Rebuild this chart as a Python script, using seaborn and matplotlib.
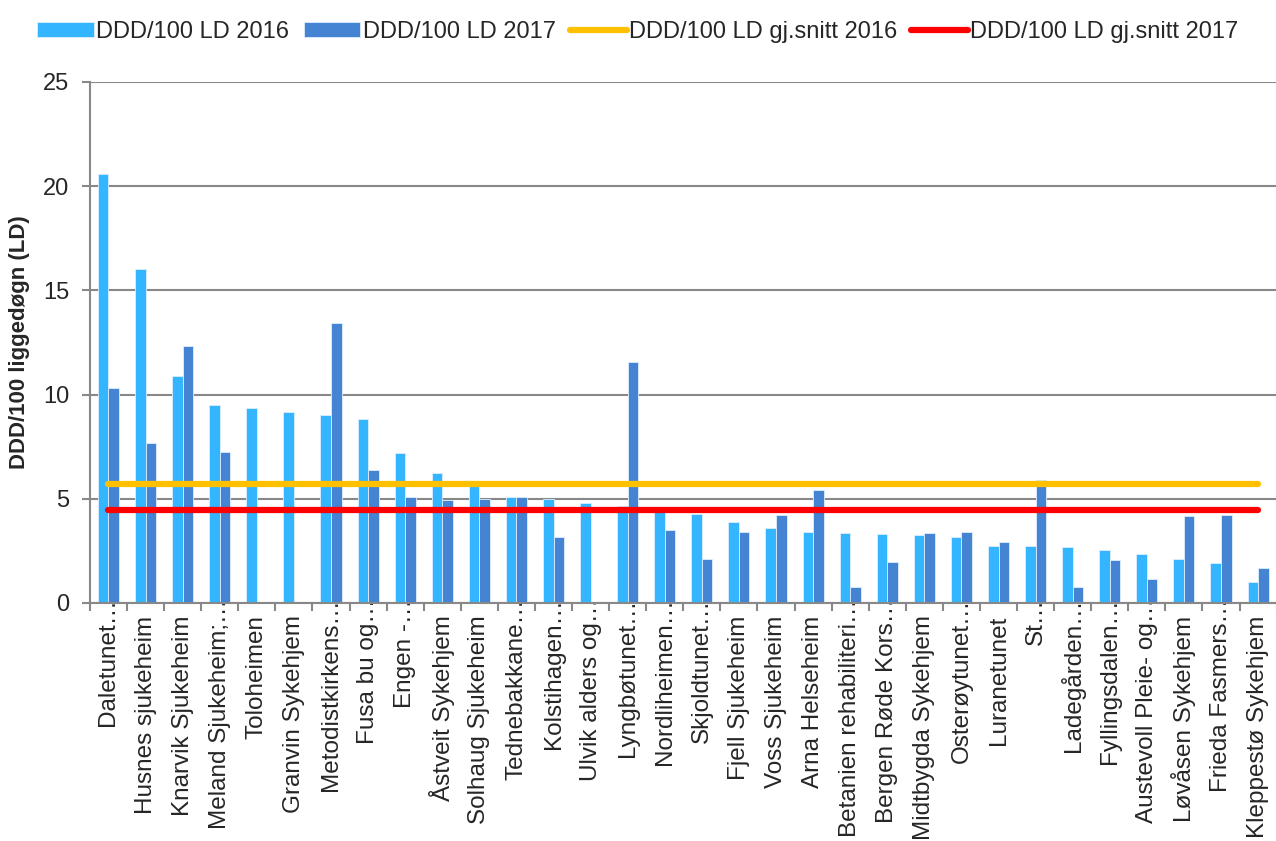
import matplotlib

matplotlib.use("Agg")

import matplotlib.pyplot as plt
import matplotlib.transforms as mtransforms
import numpy as np
import pandas as pd
import seaborn as sns

# Data
institutions = [
    "Daletunet…", "Husnes sjukeheim", "Knarvik Sjukeheim", "Meland Sjukeheim;…",
    "Toloheimen", "Granvin Sykehjem", "Metodistkirkens…", "Fusa bu og…",
    "Engen -…", "Åstveit Sykehjem", "Solhaug Sjukeheim", "Tednebakkane…",
    "Kolstihagen…", "Ulvik alders og…", "Lyngbøtunet…", "Nordliheimen…",
    "Skjoldtunet…", "Fjell Sjukeheim", "Voss Sjukeheim", "Arna Helseheim",
    "Betanien rehabiliteri…", "Bergen Røde Kors…", "Midtbygda Sykehjem", "Osterøytunet…",
    "Luranetunet", "St…", "Ladegården…", "Fyllingsdalen…",
    "Austevoll Pleie- og…", "Løvåsen Sykehjem", "Frieda Fasmers…", "Kleppestø Sykehjem",
]
ddd_2016 = [
    20.6, 16.05, 10.9, 9.5, 9.35, 9.15, 9.0, 8.85, 7.2, 6.25, 5.6, 5.1,
    5.0, 4.8, 4.67, 4.45, 4.25, 3.87, 3.58, 3.39, 3.34, 3.3, 3.25, 3.18,
    2.74, 2.74, 2.67, 2.53, 2.35, 2.11, 1.92, 1.0,
]
ddd_2017 = [
    10.3, 7.7, 12.35, 7.25, 0.0, 0.0, 13.45, 6.37, 5.1, 4.95, 4.98, 5.1,
    3.18, 0.0, 11.55, 3.5, 2.13, 3.39, 4.21, 5.41, 0.75, 1.98, 3.34, 3.41,
    2.93, 5.9, 0.77, 2.06, 1.17, 4.17, 4.22, 1.69,
]
avg_2016 = 5.72
avg_2017 = 4.48

series = ["DDD/100 LD 2016", "DDD/100 LD 2017"]
avg_labels = ["DDD/100 LD gj.snitt 2016", "DDD/100 LD gj.snitt 2017"]
bar_colors = ["#33B5FF", "#4584D3"]
line_colors = ["#FFC000", "#FF0000"]

df = pd.DataFrame(
    {
        "institution": institutions * 2,
        "serie": [series[0]] * len(institutions) + [series[1]] * len(institutions),
        "ddd": ddd_2016 + ddd_2017,
    }
)

sns.set_theme(style="white")
plt.rcParams["font.family"] = ["Liberation Sans", "DejaVu Sans"]

fig = plt.figure(figsize=(12.76, 8.41), dpi=100)
ax = fig.add_axes([0.0705, 0.283, 0.93, 0.6195])

sns.barplot(
    data=df, x="institution", y="ddd", hue="serie", order=institutions,
    hue_order=series, palette=bar_colors, saturation=1, width=0.57, gap=0,
    edgecolor="#DDEEFF", linewidth=0.6, ax=ax, zorder=2,
)

n = len(institutions)
pos = np.arange(n)
ax.plot(pos, [avg_2016] * n, color=line_colors[0], lw=4.5,
        solid_capstyle="round", label=avg_labels[0], zorder=3)
ax.plot(pos, [avg_2017] * n, color=line_colors[1], lw=4.5,
        solid_capstyle="round", label=avg_labels[1], zorder=3)

ax.set_xlim(-0.5, n - 0.5)
ax.set_ylim(0, 25)
ax.set_yticks([0, 5, 10, 15, 20, 25])
ax.yaxis.grid(True, color="#888888", lw=1.5, zorder=0)
ax.set_axisbelow(True)

for side in ["top", "right"]:
    ax.spines[side].set_visible(False)
for side in ["left", "bottom"]:
    ax.spines[side].set_color("#888888")
    ax.spines[side].set_linewidth(1.5)

ax.set_xticks(pos)
ax.set_xticklabels(institutions, rotation=90, fontsize=17.5)
ax.set_xticks(np.arange(-0.5, n), minor=True)
ax.tick_params(axis="x", which="major", length=0, pad=9)
ax.tick_params(axis="x", which="minor", length=6, width=1.5, color="#888888",
               direction="out", bottom=True)
ax.tick_params(axis="y", length=6, width=1.5, color="#888888", direction="out",
               left=True, labelsize=17, pad=9)

# truncated labels: the ellipsis runs up over the axis, as in the original
shift = mtransforms.ScaledTranslation(0, 17 / 100, fig.dpi_scale_trans)
for lbl in ax.get_xticklabels():
    lbl.set_zorder(5)
    if lbl.get_text().endswith("…"):
        lbl.set_transform(lbl.get_transform() + shift)

ax.set_xlabel("")
ax.set_ylabel("DDD/100 liggedøgn (LD)", fontsize=16, fontweight="bold", labelpad=9)

handles, labels = ax.get_legend_handles_labels()
ax.get_legend().remove()
fig.legend(
    handles, labels, loc="upper center", bbox_to_anchor=(0.5, 1.0), ncol=4,
    frameon=False, fontsize=17, handlelength=2.4, handleheight=0.6,
    handletextpad=0.1, columnspacing=0.6,
)

fig.savefig("out.png", dpi=100)
